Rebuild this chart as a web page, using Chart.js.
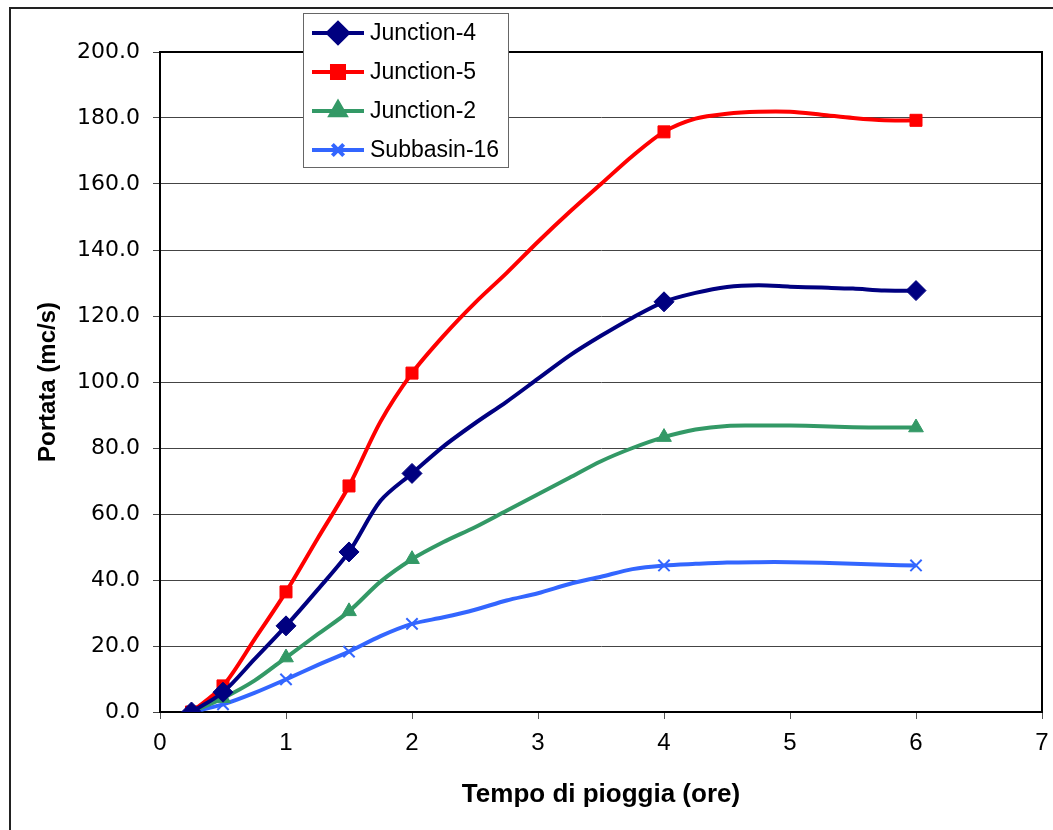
<!DOCTYPE html>
<html>
<head>
<meta charset="utf-8">
<script src="https://cdn.jsdelivr.net/npm/chart.js@4.4.1/dist/chart.umd.min.js"></script>
<style>
    html, body { margin: 0; padding: 0; background: #fff; overflow: hidden; }
    #wrap { position: relative; width: 1053px; height: 830px; }
    #frame { position: absolute; left: 9px; top: 7px; width: 1100px; height: 900px; border: 2px solid #222; box-sizing: border-box; }
</style>
</head>
<body>
<div id="wrap">
    <div id="frame"></div>
    <canvas id="portate" width="1053" height="830" style="position:absolute;left:0;top:0;"></canvas>
</div>
<script>
document.addEventListener('DOMContentLoaded', () => {

    // Time steps (hours) and discharge values (mc/s) for each section
    const tempi = [0.25, 0.5, 0.75, 1, 1.25, 1.5, 1.75, 2, 2.25, 2.5, 2.75, 3,
                   3.25, 3.5, 3.75, 4, 4.25, 4.5, 4.75, 5, 5.25, 5.5, 5.75, 6];

    // Only these steps carry a marker
    const tempiMarcati = [0.25, 0.5, 1, 1.5, 2, 4, 6];

    const junction4 = [0, 6.0, 16, 26.1, 37, 48.5, 64, 72.3, 80.5, 87.5, 94, 101,
                       108, 114, 119.5, 124.3, 127, 128.8, 129.3, 128.9, 128.6, 128.3, 127.7, 127.7];
    const junction5 = [0, 7.9, 22, 36.4, 52.5, 68.5, 88, 102.7, 114, 124, 133, 142.5,
                       151.5, 160, 168.5, 175.8, 179.8, 181.3, 181.9, 181.9, 181, 180, 179.3, 179.3];
    const junction2 = [0, 4.2, 9.5, 16.5, 23.5, 30.5, 39.5, 46.3, 51.5, 56, 61, 66,
                       71, 76, 80, 83.3, 85.6, 86.7, 86.8, 86.8, 86.6, 86.3, 86.2, 86.2];
    const subbasin16 = [0, 2.3, 5.8, 9.9, 14.2, 18.3, 23, 26.7, 28.7, 31, 33.8, 36,
                        38.8, 41, 43.3, 44.4, 44.9, 45.3, 45.4, 45.4, 45.2, 44.9, 44.6, 44.4];

    const yTicks = [0, 20, 40, 60, 80, 100, 120, 140, 160, 180, 200];
    const xTicks = [0, 1, 2, 3, 4, 5, 6, 7];

    function toPoints(values) {
        return tempi.map((t, i) => ({ x: t, y: values[i] }));
    }

    function markerRadius(r) {
        return ctx => {
            const p = ctx.raw;
            return p && tempiMarcati.includes(p.x) ? r : 0;
        };
    }

    function serie(label, values, color, style, radius, borderW) {
        return {
            label: label,
            data: toPoints(values),
            borderColor: color,
            backgroundColor: color,
            pointBackgroundColor: color,
            pointBorderColor: color,
            borderWidth: 4,
            pointStyle: style,
            pointRadius: markerRadius(radius),
            pointBorderWidth: borderW,
            pointHoverRadius: 0,
            tension: 0.3,
            fill: false
        };
    }

    // Legend box drawn inside the canvas, over the top of the plot area
    const legendaInterna = {
        id: 'legendaInterna',
        afterDraw(chart) {
            const c = chart.ctx;
            const x0 = 303, y0 = 13, w = 205, h = 154;
            c.save();
            c.fillStyle = '#fff';
            c.fillRect(x0, y0, w, h);
            c.strokeStyle = '#666';
            c.lineWidth = 1;
            c.strokeRect(x0 + 0.5, y0 + 0.5, w, h);
            c.font = '23px "Liberation Sans", Arial, sans-serif';
            c.textBaseline = 'middle';
            const rows = [33, 72, 111, 150];
            chart.data.datasets.forEach((ds, i) => {
                const y = rows[i];
                c.strokeStyle = ds.borderColor;
                c.lineWidth = 4;
                c.beginPath();
                c.moveTo(312, y);
                c.lineTo(364, y);
                c.stroke();
                c.fillStyle = ds.pointBackgroundColor;
                c.strokeStyle = ds.pointBorderColor;
                const rad = ds.pointRadius({ raw: { x: 0.25 } });
                Chart.helpers.drawPoint(c, {
                    pointStyle: ds.pointStyle,
                    radius: rad,
                    rotation: 0,
                    borderWidth: ds.pointBorderWidth
                }, 338, y);
                c.fillStyle = '#000';
                c.fillText(ds.label, 370, y + 1);
            });
            c.restore();
        }
    };

    // Black frame round the plot area
    const cornice = {
        id: 'cornice',
        beforeDatasetsDraw(chart) {
            const a = chart.chartArea;
            const c = chart.ctx;
            c.save();
            c.strokeStyle = '#000';
            c.lineWidth = 2;
            c.strokeRect(a.left, a.top, a.right - a.left, a.bottom - a.top);
            c.restore();
        }
    };

    const ctx = document.getElementById('portate');
    new Chart(ctx, {
        type: 'line',
        data: {
            datasets: [
                serie('Junction-4', junction4, '#000080', 'rectRot', 10, 1),
                serie('Junction-5', junction5, '#FF0000', 'rect', 8.5, 1),
                serie('Junction-2', junction2, '#339966', 'triangle', 8.5, 1),
                serie('Subbasin-16', subbasin16, '#3366FF', 'crossRot', 8, 2)
            ]
        },
        options: {
            responsive: false,
            animation: false,
            events: [],
            layout: { padding: { left: 0, top: 52, right: 5, bottom: 0 } },
            plugins: {
                legend: { display: false },
                tooltip: { enabled: false }
            },
            scales: {
                x: {
                    type: 'linear',
                    min: 0,
                    max: 7,
                    afterBuildTicks: scale => {
                        scale.ticks = xTicks.map(v => ({ value: v }));
                    },
                    afterFit: scale => {
                        scale.height = 118;
                        scale.paddingLeft = 0;
                        scale.paddingRight = 0;
                    },
                    grid: {
                        display: true,
                        drawOnChartArea: false,
                        drawTicks: true,
                        tickLength: 7,
                        color: '#555'
                    },
                    border: { display: true, color: '#000', width: 2 },
                    ticks: {
                        color: '#000',
                        padding: 10,
                        maxRotation: 0,
                        font: { family: '"Liberation Sans Narrow", "Liberation Sans", Arial', size: 24 }
                    },
                    title: {
                        display: true,
                        text: 'Tempo di pioggia (ore)',
                        color: '#000',
                        font: { family: '"Liberation Sans", Arial', size: 26, weight: 'bold' },
                        padding: { top: 0, bottom: 20 }
                    }
                },
                y: {
                    type: 'linear',
                    min: 0,
                    max: 200,
                    afterBuildTicks: scale => {
                        scale.ticks = yTicks.map(v => ({ value: v }));
                    },
                    afterFit: scale => { scale.width = 160; },
                    grid: {
                        display: true,
                        color: '#444',
                        lineWidth: 1,
                        drawTicks: true,
                        tickLength: 7
                    },
                    border: { display: true, color: '#000', width: 2 },
                    ticks: {
                        color: '#000',
                        padding: 13,
                        font: { family: '"DejaVu Sans", sans-serif', size: 22 },
                        callback: v => v.toFixed(1)
                    },
                    title: {
                        display: true,
                        text: 'Portata (mc/s)',
                        color: '#000',
                        font: { family: '"Liberation Sans", Arial', size: 24, weight: 'bold' },
                        padding: { top: 34, bottom: 0 }
                    }
                }
            }
        },
        plugins: [cornice, legendaInterna]
    });
});
</script>
</body>
</html>
